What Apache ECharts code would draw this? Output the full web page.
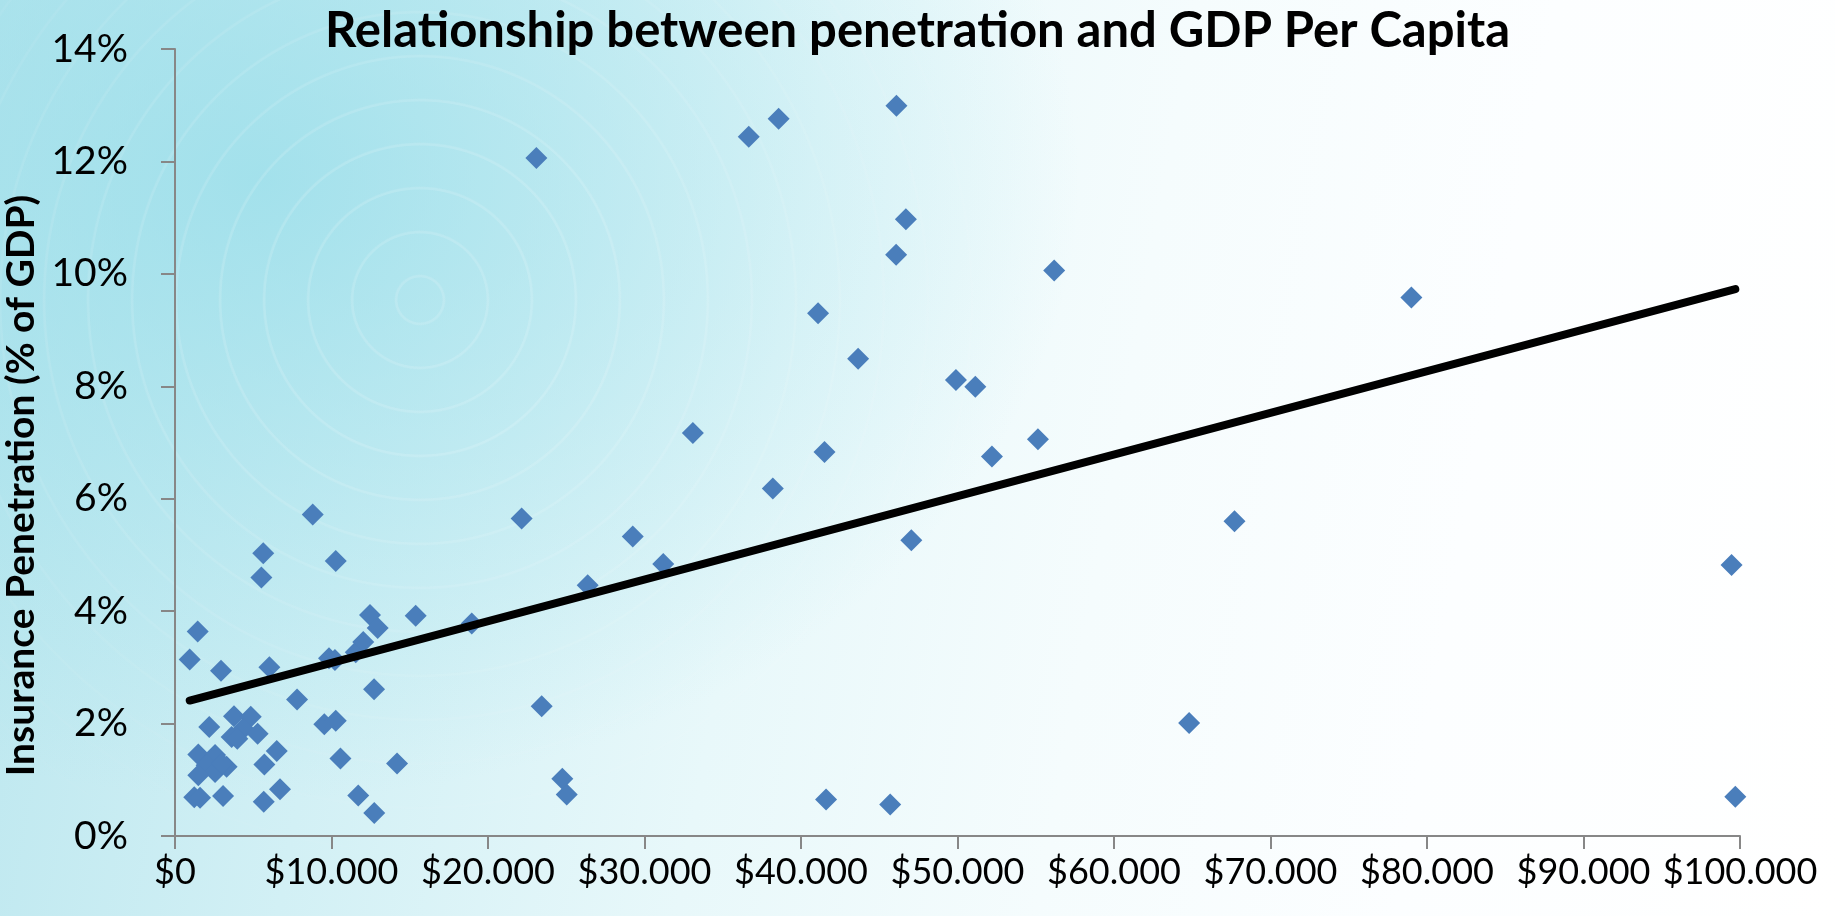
<!DOCTYPE html>
<html>
<head>
<meta charset="utf-8">
<title>Relationship between penetration and GDP Per Capita</title>
<script src="https://cdn.jsdelivr.net/npm/echarts@6/dist/echarts.min.js"></script>
<style>
  html, body { margin: 0; padding: 0; width: 1835px; height: 916px; overflow: hidden; }
  body {
    position: relative;
    background:
      radial-gradient(ellipse 820px 620px at 260px 180px, rgba(150,221,233,0.75), rgba(150,221,233,0) 100%),
      linear-gradient(100deg, #b9e6ee 0%, #d2f0f5 22%, #e8f8fa 42%, #f5fcfd 60%, #fcfeff 78%, #ffffff 100%);
  }
  #rings {
    position: absolute; left: 0; top: 0; width: 1835px; height: 916px;
    background: repeating-radial-gradient(circle at 420px 300px,
      rgba(255,255,255,0) 0px, rgba(255,255,255,0) 22px,
      rgba(255,255,255,0.16) 23px, rgba(255,255,255,0.16) 24.5px,
      rgba(255,255,255,0) 26px, rgba(255,255,255,0) 44px);
    -webkit-mask-image: radial-gradient(ellipse 760px 620px at 420px 300px, rgba(0,0,0,0.9) 25%, transparent 100%);
    mask-image: radial-gradient(ellipse 760px 620px at 420px 300px, rgba(0,0,0,0.9) 25%, transparent 100%);
  }
  #chart { position: absolute; left: 0; top: 0; width: 1835px; height: 916px; }
</style>
</head>
<body>
<div id="rings"></div>
<div id="chart"></div>
<script>
// GDP per capita (US$) and insurance penetration (% of GDP), one entry per country
const gdpPerCapita = [
  940, 1450, 2940, 6030, 7800, 9840, 10220, 11550, 12030, 12460, 12950, 15380, 12720, 18960,
  5640, 5520, 8800, 10270,
  2190, 3770, 4840, 4370, 3620, 3980, 5280, 9540, 10270,
  6500, 5710, 10570, 14190,
  1490, 2560, 2020, 3300, 2560, 1490, 2980,
  1230, 1600, 3070, 5670, 6710, 11710, 12730,
  22150, 23090, 23430, 24750, 25030, 26370, 29250, 31200, 33090,
  36660, 38570, 38200, 41090, 41500, 41600, 43650, 45700,
  46100, 46700, 46080, 47050, 49900, 51140, 52200, 55140, 56180,
  64800, 67700, 79000, 99460, 99700
];
const penetrationPct = [
  3.14, 3.64, 2.94, 3.00, 2.43, 3.16, 3.13, 3.27, 3.45, 3.93, 3.70, 3.92, 2.61, 3.78,
  5.03, 4.60, 5.72, 4.89,
  1.94, 2.13, 2.12, 1.91, 1.76, 1.73, 1.82, 1.99, 2.05,
  1.51, 1.27, 1.38, 1.29,
  1.45, 1.44, 1.26, 1.23, 1.14, 1.08, 1.29,
  0.69, 0.68, 0.71, 0.61, 0.83, 0.72, 0.41,
  5.65, 12.06, 2.31, 1.02, 0.74, 4.46, 5.33, 4.84, 7.17,
  12.44, 12.76, 6.18, 9.30, 6.83, 0.65, 8.49, 0.56,
  12.99, 10.97, 10.34, 5.26, 8.11, 7.99, 6.75, 7.06, 10.06,
  2.01, 5.60, 9.58, 4.82, 0.70
];
// Linear trend line end points
const trendGdp = [940, 99700];
const trendPct = [2.41, 9.73];

const points = gdpPerCapita.map((g, i) => [g, penetrationPct[i]]);
const trend = trendGdp.map((g, i) => [g, trendPct[i]]);

const FONT = 'Lato, "Open Sans", "Noto Sans", sans-serif';
const axisColor = '#878787';

const chart = echarts.init(document.getElementById('chart'), null, { renderer: 'canvas' });
chart.setOption({
  animation: false,
  backgroundColor: 'transparent',
  title: {
    text: 'Relationship between penetration and GDP Per Capita',
    left: 'center',
    top: 2,
    textStyle: { fontFamily: FONT, fontWeight: 'bold', fontSize: 49, color: '#000' }
  },
  grid: { left: 175, right: 95, top: 49, bottom: 80, containLabel: false, outerBoundsMode: 'none' },
  xAxis: {
    type: 'value',
    min: 0, max: 100000, interval: 10000,
    splitLine: { show: false },
    axisLine: { show: true, onZero: false, lineStyle: { color: axisColor, width: 2 } },
    axisTick: { show: true, length: 13, lineStyle: { color: axisColor, width: 2 } },
    axisLabel: {
      margin: 18,
      fontFamily: FONT, fontSize: 36, color: '#000',
      hideOverlap: false,
      showMinLabel: true,
      showMaxLabel: true,
      formatter: v => v === 0 ? '$0' : '$' + (v / 1000) + '.000'
    }
  },
  yAxis: {
    type: 'value',
    min: 0, max: 14, interval: 2,
    name: 'Insurance Penetration (% of GDP)',
    nameLocation: 'middle',
    nameRotate: 90,
    nameGap: 127,
    nameTextStyle: {
      fontFamily: FONT, fontWeight: 'bold', fontSize: 39, color: '#000',
      padding: [0, 86, 0, 0]
    },
    splitLine: { show: false },
    axisLine: { show: true, lineStyle: { color: axisColor, width: 2 } },
    axisTick: { show: true, length: 14, lineStyle: { color: axisColor, width: 2 } },
    axisLabel: {
      margin: 47,
      fontFamily: FONT, fontSize: 39, color: '#000',
      showMinLabel: true,
      showMaxLabel: true,
      formatter: '{value}%'
    }
  },
  series: [
    {
      type: 'scatter',
      data: points,
      symbol: 'diamond',
      symbolSize: 22,
      itemStyle: { color: '#4a7ebb', opacity: 1 },
      z: 2
    },
    {
      type: 'line',
      data: trend,
      showSymbol: false,
      symbol: 'none',
      lineStyle: { color: '#000', width: 8, cap: 'round' },
      z: 3
    }
  ]
});
</script>
</body>
</html>
